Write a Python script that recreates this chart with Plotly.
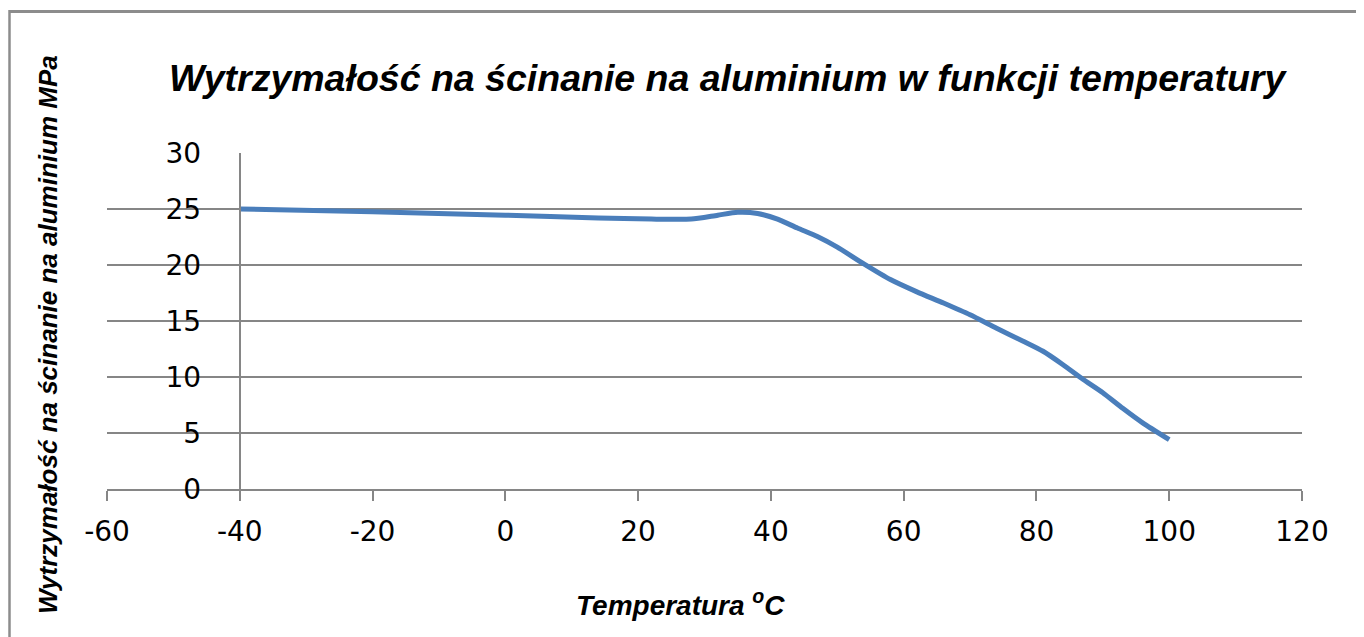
import plotly.graph_objects as go

# Data
temperature = [-40, -20, 0, 14, 22, 28, 32, 35, 38, 41, 44, 47, 50, 54, 58, 62, 66, 70, 74, 78, 81, 84, 87, 90, 93, 96, 100]
strength = [25.0, 24.75, 24.45, 24.2, 24.1, 24.1, 24.45, 24.7, 24.6, 24.1, 23.3, 22.55, 21.6, 20.1, 18.7, 17.6, 16.6, 15.55, 14.35, 13.2, 12.3, 11.1, 9.8, 8.6, 7.2, 5.9, 4.4]

x_ticks = [-60, -40, -20, 0, 20, 40, 60, 80, 100, 120]
y_ticks = [0, 5, 10, 15, 20, 25, 30]

title_text = "Wytrzymałość na ścinanie na aluminium w funkcji temperatury"
x_title = "Temperatura <sup>o</sup>C"
y_title = "Wytrzymałość na ścinanie na aluminium MPa"

W, H = 1364, 637
OFF = 8  # page body margin offset
# plot area in screen pixels
SX0, SX1, SY0, SY1 = 107, 1302, 153, 489
L = SX0 - OFF
T = SY0 - OFF
R = W - (SX1 - OFF)
B = H - (SY1 - OFF)
plot_w = SX1 - SX0
plot_h = SY1 - SY0

def px_x(px):
    return (px - SX0) / plot_w

def px_y(py):
    return (SY1 - py) / plot_h

GRAY = "#868686"
BLUE = "#4a7ebb"

fig = go.Figure()
fig.add_trace(go.Scatter(
    x=temperature, y=strength, mode="lines",
    line=dict(color=BLUE, width=5, shape="spline", smoothing=0.6),
    showlegend=False, hoverinfo="x+y",
))

tick_font = dict(family="DejaVu Sans, Liberation Sans, sans-serif", size=28, color="#000000")
title_font = dict(family="Liberation Sans, Arial, sans-serif", color="#000000", weight="bold", style="italic")

fig.update_layout(
    width=W, height=H,
    margin=dict(l=L, r=R, t=T, b=B),
    paper_bgcolor="white", plot_bgcolor="white",
    xaxis=dict(
        range=[-60, 120], tickvals=x_ticks, ticktext=[str(v) for v in x_ticks],
        showgrid=False, zeroline=False,
        showline=True, linecolor=GRAY, linewidth=2,
        ticks="outside", ticklen=10, tickwidth=2, tickcolor=GRAY,
        tickfont=tick_font, ticklabelstandoff=6,
    ),
    yaxis=dict(
        range=[0, 30], tickvals=y_ticks, ticktext=[str(v) for v in y_ticks],
        showgrid=True, gridcolor=GRAY, gridwidth=1.6,
        zeroline=False,
        anchor="free", position=20 / 180,
        showline=True, linecolor=GRAY, linewidth=2,
        ticks="", tickfont=tick_font, ticklabelstandoff=32,
    ),
    annotations=[
        dict(text=title_text, x=px_x(728), y=px_y(78), xref="paper", yref="paper",
             showarrow=False, xanchor="center", yanchor="middle",
             font=dict(size=37.5, **title_font)),
        dict(text=x_title, x=px_x(680), y=px_y(603), xref="paper", yref="paper",
             showarrow=False, xanchor="center", yanchor="middle",
             font=dict(size=28, **title_font)),
        dict(text=y_title, x=px_x(48), y=px_y(335), xref="paper", yref="paper",
             showarrow=False, xanchor="center", yanchor="middle", textangle=-90,
             font=dict(size=26, **title_font)),
    ],
    shapes=[
        dict(type="line", xref="paper", yref="paper",
             x0=px_x(9), x1=px_x(1380), y0=px_y(11.5), y1=px_y(11.5),
             line=dict(color="#8c8c8c", width=3)),
        dict(type="line", xref="paper", yref="paper",
             x0=px_x(9.5), x1=px_x(9.5), y0=px_y(10), y1=px_y(660),
             line=dict(color="#8c8c8c", width=2.5)),
    ],
)

fig.write_html("out.html")
